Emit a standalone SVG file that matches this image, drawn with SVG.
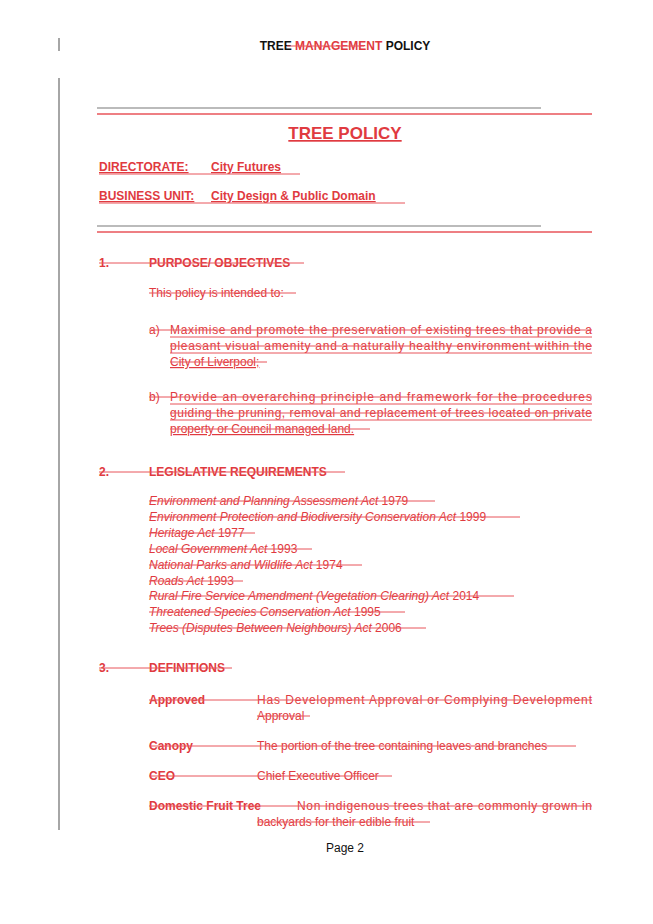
<svg xmlns="http://www.w3.org/2000/svg" width="653" height="924" viewBox="0 0 653 924">
<style>
text{font-family:"Liberation Sans",Arial,sans-serif;font-size:12px;fill:#e03a40}
.b{font-weight:bold}
.k{fill:#111}
.i{font-style:italic}
.s{stroke:#e8555a;stroke-width:1}
.u{text-decoration:underline}
</style>
<rect width="653" height="924" fill="#fff"/>
<g id="margin" stroke="#888" stroke-width="1.5">
<line x1="59" y1="38" x2="59" y2="51"/>
<line x1="59" y1="78" x2="59" y2="830"/>
</g>
<g id="header">
<text x="345" y="50" text-anchor="middle" class="b k">TREE <tspan fill="#e03a40">MANAGEMENT</tspan> POLICY</text>
<line class="s" x1="287" y1="46" x2="364" y2="46"/>
</g>
<g id="title">
<line x1="97" y1="108" x2="541" y2="108" stroke="#bbb" stroke-width="2"/>
<line x1="97" y1="114" x2="592" y2="114" stroke="#e8555a" stroke-width="1.5"/>
<text x="345" y="139" text-anchor="middle" class="b u" font-size="17" style="font-size:17px">TREE POLICY</text>
<text x="99" y="171" class="b u">DIRECTORATE:<tspan x="211">City Futures</tspan></text>
<line class="s" x1="99" y1="174" x2="300" y2="174"/>
<text x="99" y="200" class="b u">BUSINESS UNIT:<tspan x="211">City Design &amp; Public Domain</tspan></text>
<line class="s" x1="99" y1="203" x2="405" y2="203"/>
<line x1="97" y1="226" x2="541" y2="226" stroke="#bbb" stroke-width="2"/>
<line x1="97" y1="232" x2="592" y2="232" stroke="#e8555a" stroke-width="1.5"/>
</g>
<g id="section1">
<text x="99" y="267" class="b">1.</text><text x="149" y="267" class="b">PURPOSE/ OBJECTIVES</text>
<line class="s" x1="99" y1="263" x2="304" y2="263"/>
<text x="149" y="297">This policy is intended to:</text>
<line class="s" x1="149" y1="293" x2="296" y2="293"/>
<text x="149" y="334">a)</text>
<text x="170" y="334" textLength="422" lengthAdjust="spacing">Maximise and promote the preservation of existing trees that provide a</text>
<text x="170" y="350" textLength="422" lengthAdjust="spacing">pleasant visual amenity and a naturally healthy environment within the</text>
<text x="170" y="366" class="u">City of Liverpool;</text>
<g class="s"><line x1="149" y1="330" x2="592" y2="330"/><line x1="170" y1="346" x2="592" y2="346"/><line x1="170" y1="362" x2="267" y2="362"/>
<line x1="170" y1="337" x2="592" y2="337"/><line x1="170" y1="353" x2="592" y2="353"/></g>
<text x="149" y="401">b)</text>
<text x="170" y="401" textLength="422" lengthAdjust="spacing">Provide an overarching principle and framework for the procedures</text>
<text x="170" y="417" textLength="422" lengthAdjust="spacing">guiding the pruning, removal and replacement of trees located on private</text>
<text x="170" y="433" class="u">property or Council managed land.</text>
<g class="s"><line x1="149" y1="397" x2="592" y2="397"/><line x1="170" y1="413" x2="592" y2="413"/><line x1="170" y1="429" x2="370" y2="429"/>
<line x1="170" y1="404" x2="592" y2="404"/><line x1="170" y1="420" x2="592" y2="420"/></g>
</g>
<g id="section2">
<text x="99" y="476" class="b">2.</text><text x="149" y="476" class="b">LEGISLATIVE REQUIREMENTS</text>
<line class="s" x1="99" y1="472" x2="345" y2="472"/>
<text x="149" y="505"><tspan class="i">Environment and Planning Assessment Act</tspan> 1979</text>
<text x="149" y="521"><tspan class="i">Environment Protection and Biodiversity Conservation Act</tspan> 1999</text>
<text x="149" y="537"><tspan class="i">Heritage Act</tspan> 1977</text>
<text x="149" y="553"><tspan class="i">Local Government Act</tspan> 1993</text>
<text x="149" y="569"><tspan class="i">National Parks and Wildlife Act</tspan> 1974</text>
<text x="149" y="585"><tspan class="i">Roads Act</tspan> 1993</text>
<text x="149" y="600"><tspan class="i">Rural Fire Service Amendment (Vegetation Clearing) Act</tspan> 2014</text>
<text x="149" y="616"><tspan class="i">Threatened Species Conservation Act</tspan> 1995</text>
<text x="149" y="632"><tspan class="i">Trees (Disputes Between Neighbours) Act</tspan> 2006</text>
<g class="s">
<line x1="149" y1="501" x2="435" y2="501"/><line x1="149" y1="517" x2="520" y2="517"/>
<line x1="149" y1="533" x2="255" y2="533"/><line x1="149" y1="549" x2="312" y2="549"/>
<line x1="149" y1="565" x2="362" y2="565"/><line x1="149" y1="581" x2="243" y2="581"/>
<line x1="149" y1="596" x2="514" y2="596"/><line x1="149" y1="612" x2="405" y2="612"/>
<line x1="149" y1="628" x2="426" y2="628"/></g>
</g>
<g id="section3">
<text x="99" y="672" class="b">3.</text><text x="149" y="672" class="b">DEFINITIONS</text>
<line class="s" x1="99" y1="668" x2="232" y2="668"/>
<text x="149" y="704" class="b">Approved</text>
<text x="257" y="704" textLength="335" lengthAdjust="spacing">Has Development Approval or Complying Development</text>
<text x="257" y="720">Approval</text>
<text x="149" y="750" class="b">Canopy</text>
<text x="257" y="750">The portion of the tree containing leaves and branches</text>
<text x="149" y="780" class="b">CEO</text>
<text x="257" y="780">Chief Executive Officer</text>
<text x="149" y="810" class="b">Domestic Fruit Tree</text>
<text x="297" y="810" textLength="295" lengthAdjust="spacing">Non indigenous trees that are commonly grown in</text>
<text x="257" y="826">backyards for their edible fruit</text>
<g class="s">
<line x1="149" y1="700" x2="592" y2="700"/><line x1="257" y1="716" x2="310" y2="716"/>
<line x1="149" y1="746" x2="576" y2="746"/><line x1="149" y1="776" x2="392" y2="776"/>
<line x1="149" y1="806" x2="592" y2="806"/><line x1="257" y1="822" x2="430" y2="822"/></g>
</g>
<g id="footer"><text x="345" y="852" text-anchor="middle" class="k">Page 2</text></g>
</svg>
